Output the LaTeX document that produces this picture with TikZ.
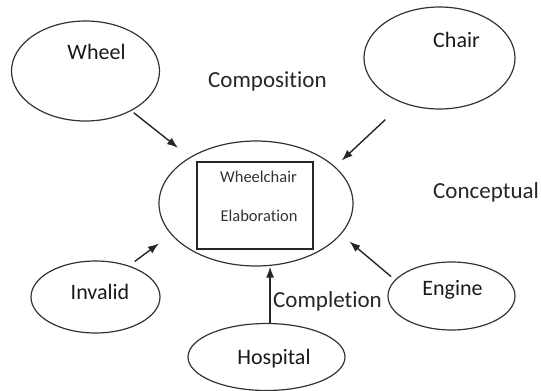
\documentclass[tikz,border=0pt]{standalone}
\usepackage{fontspec}
\setmainfont{Carlito}[Ligatures=NoCommon]
\usetikzlibrary{arrows.meta,shapes.geometric}

\begin{document}
\begin{tikzpicture}[x=1pt,y=-1pt,
        blob/.style={draw=black!80,line width=1.2pt,ellipse,inner sep=0pt},
        word/.style={anchor=base,inner sep=0pt,text=black!90,font=\fontsize{22}{26}\selectfont},
        small/.style={anchor=base,inner sep=0pt,text=black!80,font=\fontsize{16.5}{20}\selectfont},
        big/.style={anchor=base west,inner sep=0pt,text=black!85,font=\fontsize{23}{27}\selectfont},
        arr/.style={draw=black!85,line width=1.4pt,-{Latex[length=11pt,width=8pt]}}]
    \useasboundingbox (0,0) rectangle (541,391);
    \clip (0,0) rectangle (541,391);
    \node[blob,minimum width=148pt,minimum height=100pt] (wheel) at (85.5,71) {};
    \node[blob,minimum width=151pt,minimum height=102pt] (chair) at (439.5,58) {};
    \node[blob,minimum width=194pt,minimum height=125pt] (hub) at (256,203.5) {};
    \node[draw=black!85,line width=1.3pt,minimum width=116pt,minimum height=87pt,inner sep=0pt] (frame) at (255,205.5) {};
    \node[blob,minimum width=129pt,minimum height=72pt] (invalid) at (95.5,297) {};
    \node[blob,minimum width=127pt,minimum height=68pt] (engine) at (451.5,296) {};
    \node[blob,minimum width=157pt,minimum height=67pt] (hospital) at (266.5,357) {};
    \node[word] (wheel-text) at (96.5,59) {Wheel};
    \node[word] (chair-text) at (456.5,47) {Chair};
    \node[word] (invalid-text) at (100,299) {Invalid};
    \node[word] (engine-text) at (452.5,295) {Engine};
    \node[word] (hospital-text) at (274,364.5) {Hospital};
    \node[small] (wheelchair-text) at (258.5,182) {Wheelchair};
    \node[small] (elaboration-text) at (259,221) {Elaboration};
    \node[big] (composition) at (208,87) {Composition};
    \node[big] (completion) at (273,307) {Completion};
    \node[big] (conceptual) at (433,198) {Conceptual};
    \draw[arr,shorten <=3pt,shorten >=15pt] (wheel.-41) -- (hub.145);
    \draw[arr,shorten <=24pt,shorten >=9pt] (chair.231) -- (hub.25);
    \draw[arr,shorten <=7pt,shorten >=15pt] (invalid.43) -- (hub.200);
    \draw[arr,shorten <=5pt,shorten >=11pt] (engine.164) -- (hub.-20);
    \draw[arr] (hospital.84) -- (hospital.84 |- hub.south);
\end{tikzpicture}
\end{document}
